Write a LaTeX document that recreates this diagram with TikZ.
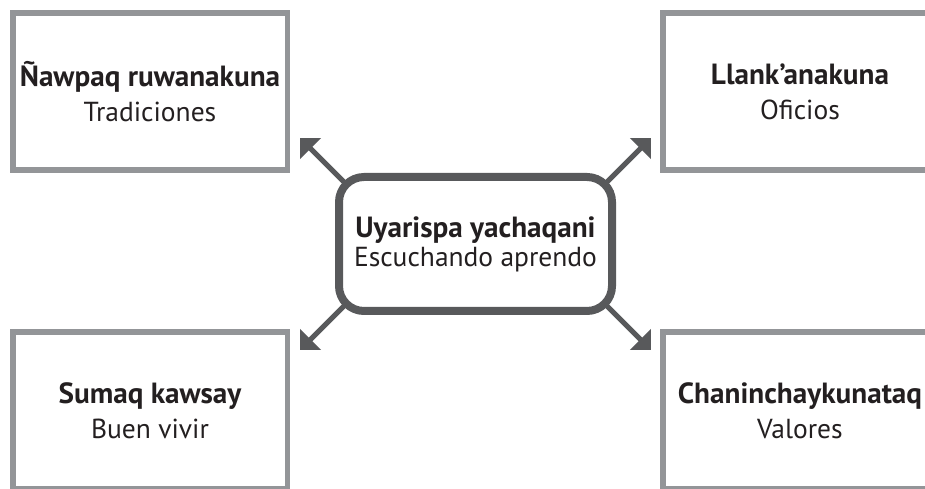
\documentclass[tikz,border=0pt]{standalone}
\usepackage{fontspec}
\setmainfont{PT Sans}
\usetikzlibrary{arrows.meta}
\definecolor{boxgray}{HTML}{939598}
\definecolor{arrgray}{HTML}{58595B}
\definecolor{inkblack}{HTML}{231F20}
\newcommand{\headword}[1]{{\bfseries\fontsize{29.2}{34}\selectfont #1}}
\begin{document}
\begin{tikzpicture}[x=1pt,y=1pt]
\tikzstyle{theme}=[draw=boxgray,line width=5.5pt,minimum width=274.5pt,minimum height=157pt,outer sep=0pt,align=center,text=inkblack,font=\fontsize{27.5}{35}\selectfont]
\tikzstyle{centre}=[draw=arrgray,line width=8pt,rounded corners=25pt,minimum width=273pt,minimum height=134pt,outer sep=0pt,fill=white,align=center,text=inkblack,font=\fontsize{27.5}{29}\selectfont]
\tikzstyle{arr}=[arrgray,line width=5pt,-{Triangle[length=15pt,width=29pt]}]
\useasboundingbox (0,0) rectangle (925,489);
\clip (0,0) rectangle (925,489);
% the four themes
\foreach \n/\x/\y/\q/\s in {tl/150/397.5/Ñawpaq ruwanakuna/Tradiciones, tr/800/397.5/Llank’anakuna/Oficios, bl/150/78.5/Sumaq kawsay/Buen vivir, br/800/78.5/Chaninchaykunataq/Valores}{
\path (\x,\y) node[theme] (\n) {\headword{\q}\\\s};
}
\path (475.5,245) node[centre] (c) {\headword{Uyarispa yachaqani}\\Escuchando aprendo};
% arrows out of the corners
\foreach \a/\n/\sx/\sy in {north west/nw/-1/1, north east/ne/1/1, south west/sw/-1/-1, south east/se/1/-1}{
\path (c.\a) ++(-7*\sx,-7*\sy) coordinate (\n0) ++(46*\sx,46*\sy) coordinate (\n1);
\draw[arr] (\n0) -- (\n1);
}
\end{tikzpicture}
\end{document}
